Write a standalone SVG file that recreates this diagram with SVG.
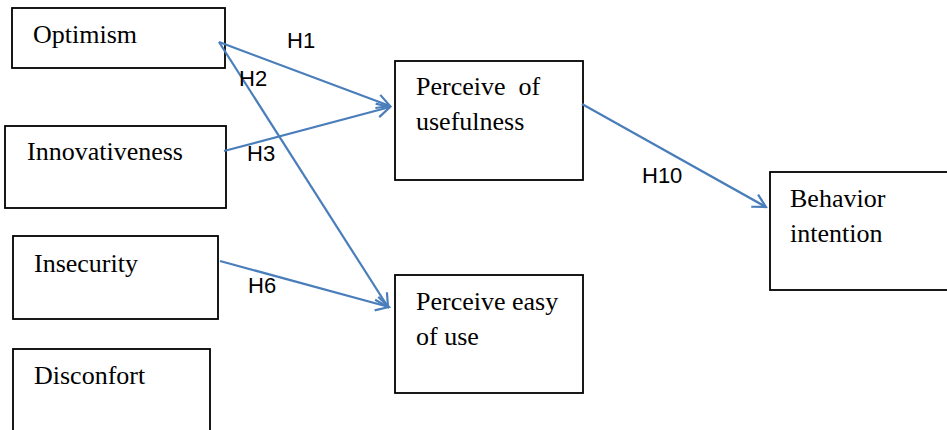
<svg xmlns="http://www.w3.org/2000/svg" width="947" height="430" viewBox="0 0 947 430">
<style>
.box{fill:#fff;stroke:#000;stroke-width:1.8}
.t{font-family:"Liberation Serif","Times New Roman",serif;font-size:26px;fill:#000}
.h{font-family:"Liberation Sans",Arial,sans-serif;font-size:22px;fill:#000}
.c{stroke:#4a7ebb;stroke-width:2.2;fill:none}
</style>
<defs>
<marker id="ah" viewBox="0 0 16 16" refX="14" refY="8" markerWidth="16" markerHeight="16" markerUnits="userSpaceOnUse" orient="auto">
<path d="M1,1 L14,8 L1,15" fill="none" stroke="#4a7ebb" stroke-width="2.2"/>
</marker>
</defs>
<rect width="947" height="430" fill="#fff"/>
<g id="optimism"><rect class="box" x="12" y="8" width="213" height="60"/><text class="t" x="33" y="43">Optimism</text></g>
<g id="innovativeness"><rect class="box" x="5" y="126" width="221" height="82"/><text class="t" x="27" y="160">Innovativeness</text></g>
<g id="insecurity"><rect class="box" x="13" y="236" width="205" height="83"/><text class="t" x="34" y="272">Insecurity</text></g>
<g id="disconfort"><rect class="box" x="13" y="349" width="197" height="90"/><text class="t" x="34" y="384">Disconfort</text></g>
<g id="pu"><rect class="box" x="395" y="61" width="188" height="119"/><text class="t" x="416" y="95" xml:space="preserve">Perceive  of</text><text class="t" x="416" y="130">usefulness</text></g>
<g id="peou"><rect class="box" x="395" y="275" width="188" height="118"/><text class="t" x="416" y="310">Perceive easy</text><text class="t" x="416" y="345">of use</text></g>
<g id="bi"><rect class="box" x="770" y="172" width="185" height="118"/><text class="t" x="790" y="207">Behavior</text><text class="t" x="790" y="242">intention</text></g>
<g id="connectors">
<line class="c" x1="219" y1="42" x2="390" y2="106" marker-end="url(#ah)"/>
<line class="c" x1="224" y1="151" x2="390" y2="107" marker-end="url(#ah)"/>
<line class="c" x1="219" y1="42" x2="388" y2="307" marker-end="url(#ah)"/>
<line class="c" x1="220" y1="261" x2="389" y2="307" marker-end="url(#ah)"/>
<line class="c" x1="582" y1="104" x2="766" y2="207" marker-end="url(#ah)"/>
</g>
<g id="labels">
<text class="h" x="287" y="48">H1</text>
<text class="h" x="239" y="86">H2</text>
<text class="h" x="247" y="161">H3</text>
<text class="h" x="248" y="293">H6</text>
<text class="h" x="642" y="183">H10</text>
</g>
</svg>
